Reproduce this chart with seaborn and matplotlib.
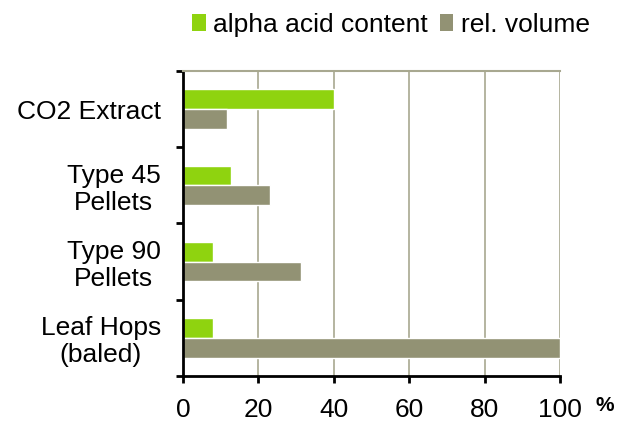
import matplotlib
matplotlib.use("Agg")
import matplotlib.pyplot as plt
from matplotlib.patches import Patch
import seaborn as sns
import pandas as pd

categories = ["CO2 Extract", "Type 45\nPellets", "Type 90\nPellets", "Leaf Hops\n(baled)"]
alpha_acid = [40, 12.7, 8, 8]
rel_volume = [11.7, 23, 31.3, 100]
series = ["alpha acid content", "rel. volume"]
colors = ["#8fd30f", "#929274"]
xticks = [0, 20, 40, 60, 80, 100]

df = pd.DataFrame({
    "category": categories * 2,
    "value": alpha_acid + rel_volume,
    "series": [series[0]] * len(categories) + [series[1]] * len(categories),
})

sns.set_style("white")
plt.rcParams["font.family"] = ["Liberation Sans", "DejaVu Sans"]
plt.rcParams["text.color"] = "black"
plt.rcParams["xtick.color"] = "black"
plt.rcParams["ytick.color"] = "black"

fig = plt.figure(figsize=(6.28, 4.23), dpi=100)
ax = fig.add_axes([0.2914, 0.1111, 0.6003, 0.7211])

sns.barplot(data=df, y="category", x="value", hue="series", orient="h",
            palette=colors, width=0.52, saturation=1, ax=ax, legend=False,
            order=categories, hue_order=series)

ax.set_xlim(0, 100)
ax.set_ylim(3.5, -0.5)
ax.set_xlabel("")
ax.set_ylabel("")

# vertical grid
ax.set_axisbelow(True)
ax.xaxis.grid(True, color="#a8a890", linewidth=1.2)
ax.yaxis.grid(False)

# x ticks
ax.set_xticks(xticks)
ax.set_xticklabels([str(t) for t in xticks], fontsize=19)
ax.tick_params(axis="x", which="major", direction="out", length=5, width=2,
               color="black", labelcolor="black", pad=11, bottom=True)

# y ticks at category boundaries, labels at centres
ax.set_yticks([-0.5, 0.5, 1.5, 2.5, 3.5])
ax.set_yticklabels([])
ax.tick_params(axis="y", which="major", direction="out", length=5, width=2,
               color="black", left=True)
ax.set_yticks(range(len(categories)), minor=True)
ax.set_yticklabels(categories, minor=True, fontsize=19, multialignment="center",
                   linespacing=1.15)
ax.tick_params(axis="y", which="minor", length=0, pad=16, labelcolor="black")

for side in ["left", "bottom"]:
    ax.spines[side].set_color("black")
    ax.spines[side].set_linewidth(2)
ax.spines["top"].set_color("#a8a890")
ax.spines["top"].set_linewidth(1.5)
ax.spines["right"].set_visible(False)

fig.text(0.963, 0.018, "%", fontsize=15, fontweight="bold", ha="center", va="bottom")

handles = [Patch(facecolor=c, edgecolor="none") for c in colors]
fig.legend(handles, series, loc="upper center", bbox_to_anchor=(0.623, 1.025),
           ncol=2, frameon=False, fontsize=19, handlelength=0.5, handleheight=0.6,
           handletextpad=0.3, columnspacing=0.45)

fig.savefig("out.png", dpi=100)
